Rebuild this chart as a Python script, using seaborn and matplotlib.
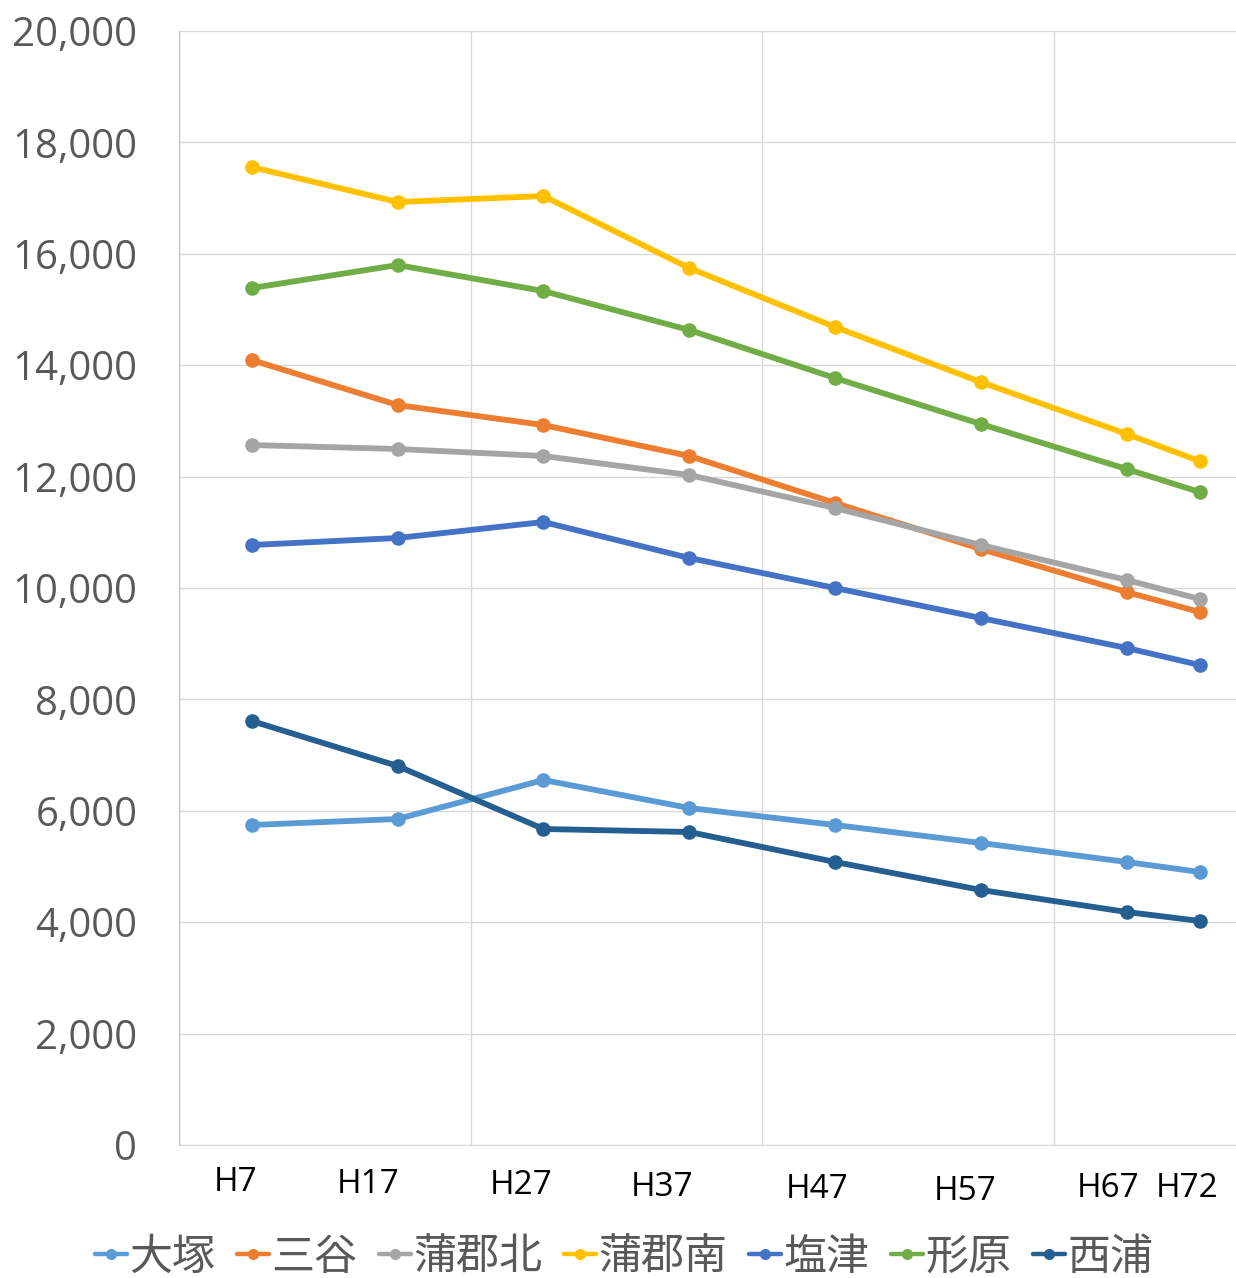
import pandas as pd
import matplotlib.pyplot as plt
import matplotlib.transforms as mtransforms
from matplotlib.ticker import FuncFormatter
import seaborn as sns

# --- data ---
years = [7, 17, 27, 37, 47, 57, 67, 72]
year_labels = ["H7", "H17", "H27", "H37", "H47", "H57", "H67", "H72"]

otsuka = [5745, 5853, 6553, 6050, 5745, 5422, 5081, 4901]
mitani = [14093, 13285, 12926, 12370, 11526, 10700, 9928, 9569]
gamagori_kita = [12567, 12496, 12370, 12029, 11436, 10772, 10144, 9803]
gamagori_minami = [17558, 16930, 17038, 15745, 14686, 13698, 12765, 12280]
shiotsu = [10772, 10898, 11185, 10539, 10000, 9461, 8923, 8618]
katahara = [15386, 15799, 15332, 14632, 13770, 12944, 12136, 11724]
nishiura = [7612, 6804, 5673, 5619, 5081, 4578, 4183, 4022]

names = ["大塚", "三谷", "蒲郡北", "蒲郡南", "塩津", "形原", "西浦"]
series = [otsuka, mitani, gamagori_kita, gamagori_minami, shiotsu, katahara, nishiura]
colors = ["#5B9BD5", "#ED7D31", "#A5A5A5", "#FFC000", "#4472C4", "#70AD47", "#255E91"]

rows = []
for name, vals in zip(names, series):
    for y, v in zip(years, vals):
        rows.append({"year": y, "area": name, "value": v})
df = pd.DataFrame(rows)

# --- plot ---
sns.set_style("white")
plt.rcParams['font.family'] = ['Open Sans', 'Noto Sans CJK JP', 'DejaVu Sans']

fig = plt.figure(figsize=(12.36, 12.78), dpi=100)
ax = fig.add_axes([0.1448, 0.1041, 0.8552, 0.8716])

sns.lineplot(data=df, x="year", y="value", hue="area", hue_order=names,
             palette=colors, marker="o", markersize=10.5, markeredgewidth=0,
             linewidth=4.2, ax=ax, legend=False, zorder=3)

ax.set_xlim(2, 74.5)
ax.set_ylim(0, 20000)
ax.set_yticks(range(0, 20001, 2000))
ax.yaxis.set_major_formatter(FuncFormatter(lambda v, p: f"{int(v):,}"))
ax.set_xticks(years)
ax.set_xticklabels(year_labels)
ax.set_xticks([2, 22, 42, 62], minor=True)
ax.set_xlabel("")
ax.set_ylabel("")

ax.grid(axis="y", color="#d9d9d9", linewidth=1.0)
ax.grid(axis="x", which="minor", color="#d9d9d9", linewidth=1.0)
ax.grid(axis="x", which="major", visible=False)
ax.set_axisbelow(True)

for s in ["top", "right"]:
    ax.spines[s].set_visible(False)
ax.spines["left"].set_color("#bfbfbf")
ax.spines["bottom"].set_color("#d9d9d9")

ax.tick_params(axis="y", length=10, color="#d9d9d9", pad=20,
               labelsize=29, labelcolor="#595959")
ax.tick_params(axis="x", which="both", length=0, pad=18,
               labelsize=24, labelcolor="black")

# the original labels sit a little left of their points, at uneven heights
label_dx = [-16, -30, -22, -27, -18, -16, -19, -12]
label_dy = [4, 2, 1, -1, -3, -5, -2, -2]
for lab, dx, dy in zip(ax.get_xticklabels(), label_dx, label_dy):
    off = mtransforms.ScaledTranslation(dx / 100, dy / 100, fig.dpi_scale_trans)
    lab.set_transform(lab.get_transform() + off)

handles = [plt.Line2D([], [], color=c, linewidth=3.2, marker="o", markersize=7)
           for c in colors]
leg = fig.legend(handles, names, loc="center", bbox_to_anchor=(0.505, 0.016),
                 ncol=7, frameon=False, handlelength=0.75, handletextpad=0.05,
                 columnspacing=0.5,
                 prop={"family": ["Noto Sans CJK JP"], "size": 31})
for t in leg.get_texts():
    t.set_color("#595959")

plt.savefig("out.png", dpi=100)
plt.close()
